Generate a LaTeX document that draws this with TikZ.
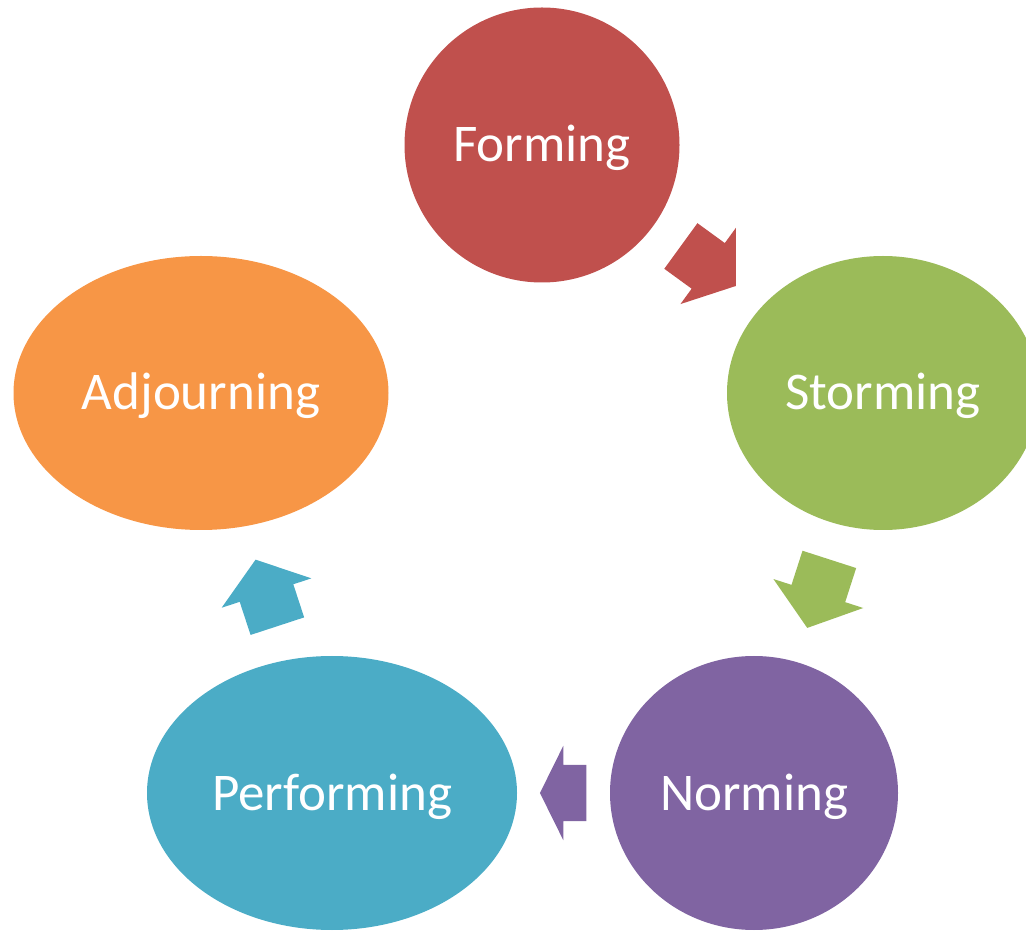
\documentclass[tikz,border=0pt]{standalone}
\usepackage{fontspec}
\setmainfont{Carlito}
\usepackage{tikz}
\usetikzlibrary{shapes.geometric,shapes.arrows}
\definecolor{rust}{HTML}{C0504D}
\definecolor{leaf}{HTML}{9BBB59}
\definecolor{grape}{HTML}{8064A2}
\definecolor{sky}{HTML}{4BACC6}
\definecolor{amber}{HTML}{F79646}

\begin{document}
\begin{tikzpicture}[x=1pt, y=1pt,
  stage/.style={ellipse, inner sep=0pt, minimum height=274pt, text=white,
    text height=34pt, text depth=0pt, font=\fontsize{53}{64}\selectfont},
  turn/.style={single arrow, sloped, allow upside down, anchor=tail, pos=.25,
    inner sep=0pt, inner ysep=28pt, minimum width=0pt, minimum height=#1,
    single arrow head extend=19pt, single arrow tip angle={2*atan(94/#1)}}]
\clip (0,0) rectangle (1026,930);
\node[stage, fill=rust, minimum width=275pt, minimum height=275pt] (forming) at (542,785) {Forming};
\node[stage, fill=leaf, minimum width=312pt] (storming) at (883,537) {Storming};
\node[stage, fill=grape, minimum width=288pt] (norming) at (754,137) {Norming};
\node[stage, fill=sky, minimum width=370pt] (performing) at (332,137) {Performing};
\node[stage, fill=amber, minimum width=375pt] (adjourning) at (201,537) {Adjourning};
% block arrows in the gaps
\path (forming) -- node[turn=68, fill=rust] {} (storming);
\path (storming) -- node[turn=72, fill=leaf] {} (norming);
\path (norming) -- node[turn=46.5, fill=grape] {} (performing);
\path (performing) -- node[turn=70, fill=sky] {} (adjourning);
\end{tikzpicture}
\end{document}
